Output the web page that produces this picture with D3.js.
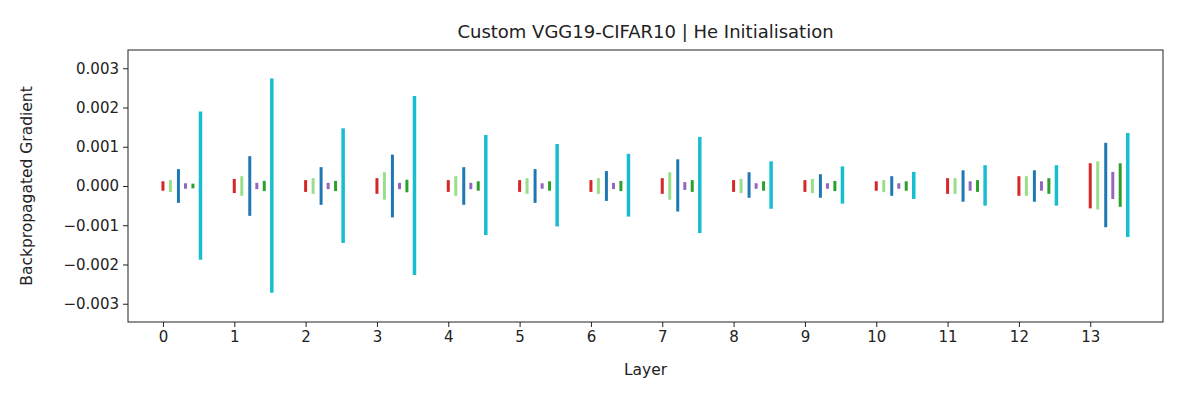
<!DOCTYPE html><html><head><meta charset="utf-8">
<script src="https://cdn.jsdelivr.net/npm/d3@7"></script>
<style>body{margin:0;background:#fff}text{font-family:"DejaVu Sans",sans-serif;fill:#222}</style></head><body>
<svg id="c" width="1200" height="400"></svg>
<script>
const layers=[0,1,2,3,4,5,6,7,8,9,10,11,12,13];
const yTicks=[-0.003,-0.002,-0.001,0,0.001,0.002,0.003];
const seriesColors=["#d62728","#98df8a","#1f77b4","#9467bd","#2ca02c","#17becf"];
const seriesOffsets=[0,0.105,0.217,0.316,0.42,0.526];
// max / min values per series per layer
const s0max=[.00012,.00018,.00015,.0002,.00015,.00015,.00015,.0002,.00015,.00015,.00012,.0002,.00025,.00058];
const s0min=[-.00012,-.00018,-.00015,-.0002,-.00015,-.00015,-.00015,-.0002,-.00015,-.00015,-.00012,-.0002,-.00025,-.00057];
const s1max=[.00015,.00025,.0002,.00035,.00025,.0002,.0002,.00035,.00018,.00018,.00015,.0002,.00025,.00063];
const s1min=[-.00015,-.00025,-.0002,-.00035,-.00025,-.0002,-.0002,-.00035,-.00018,-.00018,-.00015,-.0002,-.00025,-.0006];
const s2max=[.00043,.00076,.00048,.0008,.00048,.00043,.00038,.00068,.00035,.0003,.00025,.0004,.0004,.0011];
const s2min=[-.00043,-.00076,-.00048,-.0008,-.00048,-.00043,-.00038,-.00065,-.0003,-.0003,-.00025,-.0004,-.0004,-.00105];
const s3max=[.00007,.00008,.00008,.00008,.00008,.00007,.00008,.0001,.00007,.00007,.00007,.00012,.00012,.00036];
const s3min=[-.00007,-.00008,-.00008,-.00008,-.00008,-.00007,-.00008,-.0001,-.00007,-.00007,-.00007,-.00012,-.00012,-.00033];
const s4max=[.00006,.00013,.00013,.00016,.00012,.00012,.00013,.00015,.00012,.00013,.00012,.00015,.0002,.00058];
const s4min=[-.00006,-.00013,-.00013,-.00016,-.00012,-.00012,-.00013,-.00015,-.00012,-.00013,-.00012,-.00015,-.0002,-.00053];
const s5max=[.0019,.00274,.00147,.00229,.0013,.00107,.00082,.00125,.00063,.0005,.00036,.00053,.00053,.00135];
const s5min=[-.00188,-.00272,-.00145,-.00227,-.00125,-.00103,-.00078,-.0012,-.00058,-.00045,-.00033,-.0005,-.0005,-.0013];
const seriesMax=[s0max,s1max,s2max,s3max,s4max,s5max];
const seriesMin=[s0min,s1min,s2min,s3min,s4min,s5min];

const svg=d3.select("#c");
const L=128,R=1163,T=50,B=322;
const x=d3.scaleLinear().domain([-0.49,14.02]).range([L,R]);
const y=d3.scaleLinear().domain([-0.003465,0.003465]).range([B,T]);
seriesColors.forEach((c,si)=>{
  svg.append("g").selectAll("line").data(layers).join("line")
   .attr("x1",d=>x(d+seriesOffsets[si])).attr("x2",d=>x(d+seriesOffsets[si]))
   .attr("y1",d=>y(seriesMax[si][d])).attr("y2",d=>y(seriesMin[si][d]))
   .attr("stroke",c).attr("stroke-width",si==5?3.5:3);
});
svg.append("rect").attr("x",L).attr("y",T).attr("width",R-L).attr("height",B-T).attr("fill","none").attr("stroke","#222").attr("stroke-width",1);
const xa=svg.append("g").attr("transform",`translate(0,${B})`).call(d3.axisBottom(x).tickValues(layers).tickFormat(d3.format("d")).tickSizeOuter(0));
const ya=svg.append("g").attr("transform",`translate(${L},0)`).call(d3.axisLeft(y).tickValues(yTicks).tickFormat(d=>d===0?"0.000":d3.format(".3f")(d).replace("-","−")).tickSizeOuter(0));
[xa,ya].forEach(a=>{a.select(".domain").remove();a.selectAll("text").style("font-size","15px").style("font-family","DejaVu Sans");a.selectAll("line").attr("stroke","#222").attr("stroke-width",1);a.selectAll(".tick line").attr(a===xa?"y2":"x2",a===xa?5:-5);});
ya.selectAll("text").attr("x",-9);
xa.selectAll("text").attr("y",9);
svg.append("text").attr("x",(L+R)/2).attr("y",38).attr("text-anchor","middle").style("font-size","18px").text("Custom VGG19-CIFAR10 | He Initialisation");
svg.append("text").attr("x",(L+R)/2).attr("y",375).attr("text-anchor","middle").style("font-size","15.5px").text("Layer");
svg.append("text").attr("transform",`translate(32,${(T+B)/2}) rotate(-90)`).attr("text-anchor","middle").style("font-size","15.5px").text("Backpropagated Gradient");
</script></body></html>
